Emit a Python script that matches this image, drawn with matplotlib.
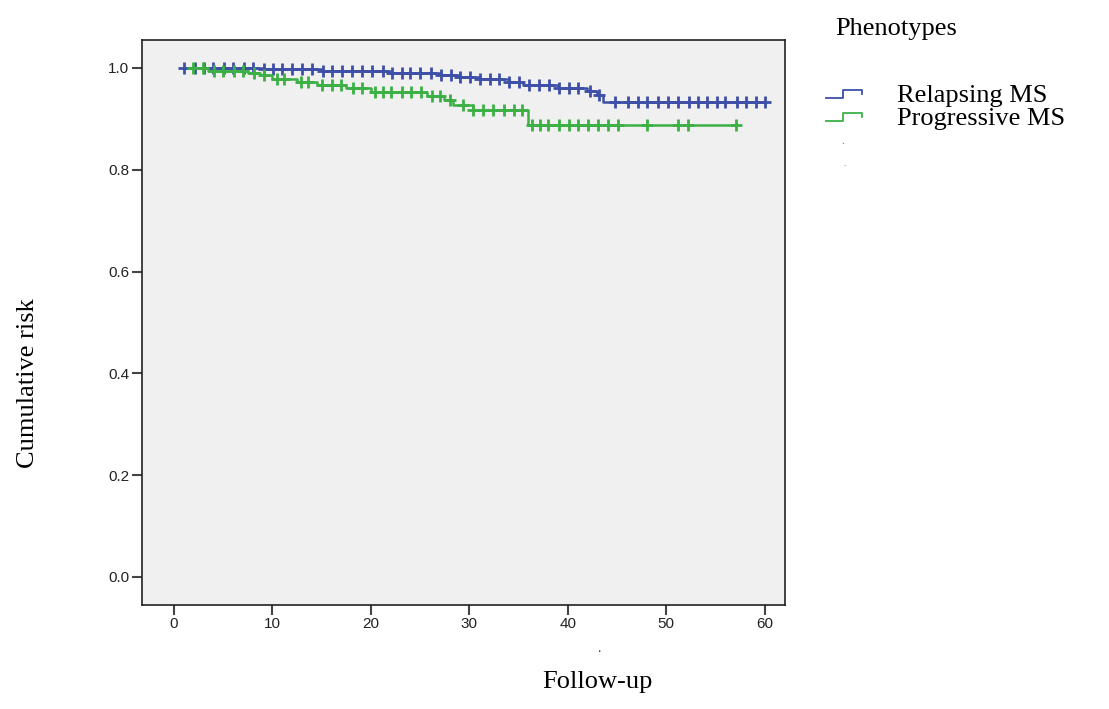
import numpy as np
from matplotlib import pyplot as plt
from matplotlib.lines import Line2D

# Kaplan-Meier style steps
relapsing_t = [1.0, 9, 15, 22, 27, 29, 31, 34, 35.5, 39, 42, 43, 43.6]
relapsing_s = [1.0, 0.997, 0.994, 0.990, 0.986, 0.983, 0.979, 0.973, 0.967, 0.961, 0.954, 0.947, 0.934]
relapsing_cens = [1.0, 2.1, 3.1, 4.0, 5.1, 6.0, 7.1, 8.0, 9.1, 10.1, 11.0, 12.0, 13.0,
                  14.0, 15.1, 16.1, 17.1, 18.1, 19.1, 20.1, 21.2, 22.2, 23.2, 24.0,
                  25.0, 26.1, 27.1, 28.1, 29.1, 30.1, 31.1, 32.1, 33.0, 34.0, 35.1,
                  36.1, 37.1, 38.1, 39.1, 40.1, 41.1, 42.3, 43.2, 44.8, 46.1, 47.1,
                  48.1, 49.2, 50.2, 51.2, 52.3, 53.2, 54.2, 55.2, 56.0, 57.2, 58.1,
                  59.1, 60.1]

progressive_t = [1.9, 3.5, 7.5, 8.7, 10, 12.5, 14.5, 17.5, 20, 25.7, 27.4, 28.4, 30.4, 36]
progressive_s = [1.0, 0.994, 0.990, 0.986, 0.979, 0.973, 0.967, 0.960, 0.953, 0.944,
                 0.937, 0.927, 0.917, 0.887]
progressive_cens = [1.9, 3.0, 4.1, 5.0, 6.1, 7.0, 8.1, 9.2, 10.5, 11.2, 12.9, 13.6,
                    15.0, 16.1, 17.0, 18.2, 19.1, 20.4, 21.2, 22.1, 23.2, 24.1, 25.1,
                    26.2, 27.0, 28.0, 29.4, 30.4, 31.4, 32.4, 33.5, 34.5, 35.4, 36.4,
                    37.2, 38.0, 39.1, 40.1, 41.1, 42.1, 43.1, 44.1, 45.1, 48.1, 51.2,
                    52.2, 57.1]

series = [
    ('Relapsing MS', '#3d4fa6', relapsing_t, relapsing_s, relapsing_cens),
    ('Progressive MS', '#3cb045', progressive_t, progressive_s, progressive_cens),
]

xticks = [0, 10, 20, 30, 40, 50, 60]
yticks = [0.0, 0.2, 0.4, 0.6, 0.8, 1.0]

fig = plt.figure(figsize=(11.09, 7.09), dpi=100)
ax = fig.add_axes([0.128, 0.1467, 0.58, 0.797])
ax.set_facecolor('#f0f0f0')

for name, col, t, s, cens in series:
    tt = list(t) + [max(cens)]
    ss = list(s) + [s[-1]]
    ax.step(tt, ss, where='post', color=col, lw=1.8)
    idx = np.searchsorted(t, cens, side='right') - 1
    cs = np.array(s)[idx]
    ax.plot(cens, cs, ls='none', marker='+', ms=8, mew=2.0, color=col)

ax.set_xlim(-3.25, 62.1)
ax.set_ylim(-0.055, 1.055)
ax.set_xticks(xticks)
ax.set_yticks(yticks)
ax.set_xticklabels([str(v) for v in xticks])
ax.set_yticklabels(['%.1f' % v for v in yticks])
ax.tick_params(direction='out', length=7, width=1.5, color='#444444', labelsize=11,
               labelcolor='#222222', pad=2)
for lab in ax.get_xticklabels() + ax.get_yticklabels():
    lab.set_family('Liberation Sans')
for sp in ax.spines.values():
    sp.set_color('#222222')
    sp.set_linewidth(1.2)

serif = 'Liberation Serif'
fig.text(597 / 1109, 1 - 682 / 709, 'Follow-up', family=serif, fontsize=19,
         ha='center', va='center')
fig.text(28 / 1109, 1 - 383 / 709, 'Cumulative risk', family=serif, fontsize=19,
         ha='center', va='center', rotation=90)
fig.text(599 / 1109, 1 - 648 / 709, '.', family=serif, fontsize=10,
         ha='center', va='center', color='#333333')

# legend drawn by hand
fig.text(835 / 1109, 1 - 29 / 709, 'Phenotypes', family=serif, fontsize=19,
         ha='left', va='center')
W, H = 1109.0, 709.0
for i, (name, col, t, s, cens) in enumerate(series):
    yc = 98 + i * 23
    xs = np.array([826, 843, 843, 862, 862]) / W
    ys = 1 - np.array([yc, yc, yc - 8, yc - 8, yc - 4]) / H
    fig.add_artist(Line2D(xs, ys, color=col, lw=1.3, transform=fig.transFigure))
    fig.text(897 / W, 1 - (yc - 2) / H, name, family=serif, fontsize=19,
             ha='left', va='center')
fig.text(843 / W, 1 - 142 / H, '.', family=serif, fontsize=8, ha='center',
         va='center', color='#777777')
fig.text(845 / W, 1 - 166 / H, '-', family=serif, fontsize=6, ha='center',
         va='center', color='#aaaaaa')

plt.savefig('out.png', dpi=100)
